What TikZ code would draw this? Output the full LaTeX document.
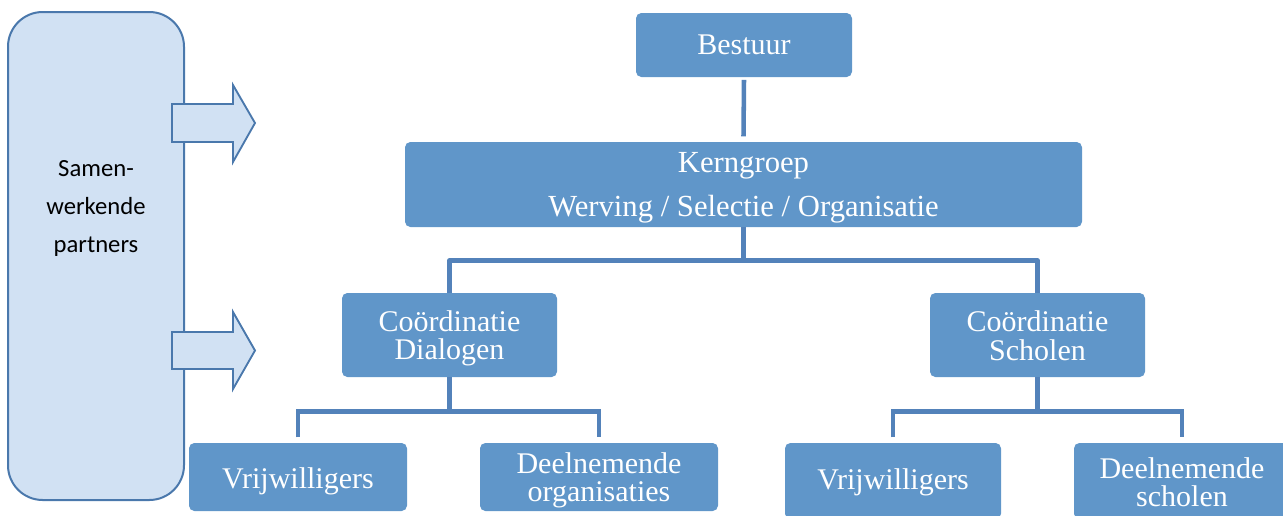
\documentclass[tikz,border=0pt]{standalone}
\usepackage{fontspec}
\setmainfont{Liberation Serif}
\newfontfamily\calib{Carlito}
\definecolor{boxfill}{HTML}{6096C9}
\definecolor{linecol}{HTML}{5382BA}
\definecolor{panelfill}{HTML}{D1E1F3}
\definecolor{panelline}{HTML}{4A78AC}
\tikzset{
  orgbox/.style 2 args={rectangle, rounded corners=4pt, fill=boxfill, draw=none,
    inner sep=0pt, minimum width=#1*0.75pt, minimum height=#2*0.75pt},
  boxtext/.style={text=white, inner sep=0pt, align=center,
    font=\fontsize{22.5pt}{21.5pt}\selectfont},
  conn/.style={draw=linecol, line width=3.4pt},
  panelshape/.style={fill=panelfill, draw=panelline, line width=1.5pt},
}
\begin{document}
\begin{tikzpicture}[x=0.75pt,y=-0.75pt]
\useasboundingbox (0,0) rectangle (1283,515);
\clip (0,0) rectangle (1283,515);
% left panel
\draw[panelshape, rounded corners=26pt] (8,12) rectangle (184,500);
\node[font=\calib\fontsize{18.5pt}{28.3pt}\selectfont, align=center] (partners) at (96,208.5) {Samen-\\werkende\\partners};
% block arrows
\draw[panelshape, line width=1.4pt, line join=miter] (172,104) -- (233,104) -- (233,85) -- (255,123) -- (233,162) -- (233,142) -- (172,142) -- cycle;
\draw[panelshape, line width=1.4pt, line join=miter] (172,332) -- (233,332) -- (233,312) -- (255,350.5) -- (233,389) -- (233,369) -- (172,369) -- cycle;
% boxes
\node[orgbox={216}{64}] (bestuur) at (744,45) {};
\node[orgbox={677}{85}] (kern) at (743.5,184.5) {};
\node[orgbox={215}{84}] (cd) at (449.5,335) {};
\node[orgbox={215}{84}] (cs) at (1037.5,335) {};
\node[orgbox={218}{68}] (v1) at (298,477) {};
\node[orgbox={238}{68}] (d1) at (599,477) {};
\node[orgbox={216}{76}] (v2) at (893,481) {};
\node[orgbox={216}{76}] (d2) at (1182,481) {};
% texts
\node[boxtext] (tbestuur) at (bestuur.center) {Bestuur};
\node[boxtext, font=\fontsize{23pt}{33pt}\selectfont] (tkern) at ([yshift=-2.4pt]kern.center) {Kerngroep\\Werving / Selectie / Organisatie};
\node[boxtext] (tcd) at ([yshift=-2.4pt]cd.center) {Coördinatie\\Dialogen};
\node[boxtext] (tcs) at ([yshift=-0.6pt]cs.center) {Coördinatie\\Scholen};
\node[boxtext] (tv1) at ([yshift=-3pt]v1.center) {Vrijwilligers};
\node[boxtext] (td1) at ([yshift=-2.4pt]d1.center) {Deelnemende\\organisaties};
\node[boxtext] (tv2) at ([yshift=-1.2pt]v2.center) {Vrijwilligers};
\node[boxtext] (td2) at ([yshift=-0.8pt]d2.center) {Deelnemende\\scholen};
% connectors
\draw[conn] ([yshift=-2pt]bestuur.south) -- ([yshift=4pt]kern.north);
\draw[conn] (kern.south) -- ++(0,33) coordinate (k1);
\draw[conn, line join=round] (cd.north) |- (k1) -| (cs.north);
\draw[conn] (cd.south) -- ++(0,34) coordinate (c1);
\draw[conn] ([yshift=4pt]v1.north) |- (c1) -| ([yshift=4pt]d1.north);
\draw[conn] (cs.south) -- ++(0,34) coordinate (c2);
\draw[conn] ([yshift=4pt]v2.north) |- (c2) -| ([yshift=4pt]d2.north);
\end{tikzpicture}
\end{document}
